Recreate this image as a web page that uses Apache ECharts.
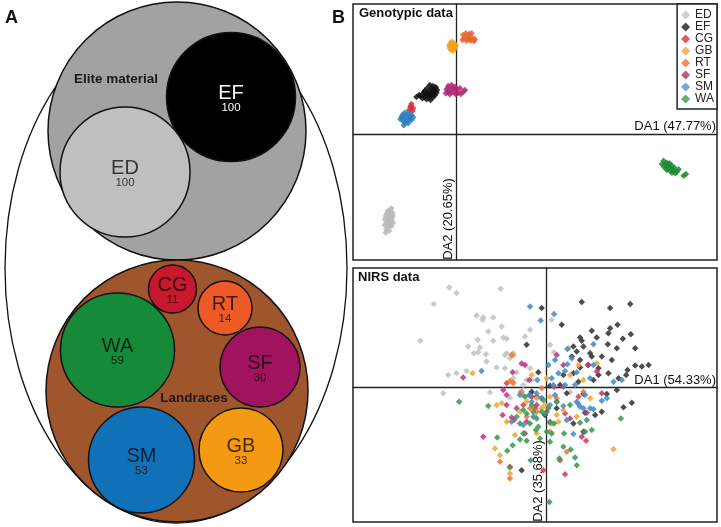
<!DOCTYPE html>
<html>
<head>
<meta charset="utf-8">
<script src="https://cdn.jsdelivr.net/npm/echarts@6/dist/echarts.min.js"></script>
<style>html,body{margin:0;padding:0;background:#fff;}#c{width:721px;height:527px;}</style>
</head>
<body>
<div id="c"></div>
<script>
// ---------------- DATA ----------------
// Panel A: accessions per group
const groupNames  = ['ED','EF','CG','RT','WA','SF','SM','GB'];
const groupCounts = [100, 100, 11, 14, 59, 30, 53, 33];
const poolNames   = ['Elite material', 'Landraces'];
const legendOrder = ['ED','EF','CG','GB','RT','SF','SM','WA'];
const genoTitle = 'Genotypic data';
const nirsTitle = 'NIRS data';
const genoAxisNames = ['DA1 (47.77%)', 'DA2 (20.65%)'];
const nirsAxisNames = ['DA1 (54.33%)', 'DA2 (35.68%)'];

// Panel B (top): DAPC on genotypic data, [DA1, DA2]
const genoED = [[-19.5,-22.2],[-20.0,-22.9],[-19.2,-23.5],[-20.8,-23.7],[-19.8,-24.2],[-21.2,-24.5],[-20.2,-24.9],[-19.2,-24.9],[-21.5,-25.5],[-20.5,-25.7],[-19.5,-25.7],[-21.0,-26.5],[-20.0,-26.7],[-19.0,-26.5],[-21.5,-27.2],[-20.5,-27.7],[-19.5,-27.5],[-21.0,-28.5],[-20.2,-28.9],[-21.2,-29.5],[-19.2,-24.2],[-20.6,-23.0],[-20.0,-26.0]];
const genoEF = [[-8.0,14.8],[-7.0,14.5],[-6.2,14.1],[-8.8,13.8],[-7.5,13.8],[-6.5,13.5],[-5.8,13.3],[-9.5,13.1],[-8.2,12.8],[-7.0,12.7],[-6.0,12.5],[-10.0,12.1],[-8.8,12.0],[-7.5,11.9],[-6.5,11.7],[-10.8,11.5],[-9.5,11.3],[-8.2,11.1],[-7.0,11.1],[-9.0,10.5],[-7.8,10.3],[-10.2,10.8],[-11.2,11.8],[-8.5,12.4],[-7.2,13.2],[-9.2,11.9],[-6.8,12.1],[-8.0,11.6],[-9.8,12.6],[-12.0,11.2]];
const genoCG = [[-13.5,9.1],[-13.8,8.1],[-13.0,7.8],[-14.2,7.3],[-13.2,7.0],[-13.7,8.5]];
const genoGB = [[-1.5,27.8],[-1.0,27.5],[-2.0,27.1],[-1.2,27.0],[-0.5,27.1],[-2.2,26.5],[-1.5,26.3],[-0.8,26.3],[-0.2,26.5],[-2.0,25.8],[-1.2,25.7],[-0.5,25.7],[-1.7,25.3],[-1.0,25.1]];
const genoRT = [[2.0,29.8],[2.8,30.3],[3.8,30.1],[4.5,30.3],[2.3,28.8],[3.2,29.1],[4.0,29.0],[4.8,28.8],[5.5,28.5],[1.8,28.3],[3.0,28.1],[4.2,28.1],[5.2,27.9],[3.5,28.5]];
const genoSF = [[-2.5,14.5],[-1.5,14.8],[-0.5,14.3],[-3.0,13.5],[-2.0,13.7],[-1.0,13.8],[0.0,13.5],[1.0,13.8],[-2.5,12.8],[-1.5,12.7],[-0.5,12.8],[0.5,12.5],[2.0,12.8],[-2.0,12.0],[-0.2,12.0],[1.3,12.1],[-3.2,12.3],[2.5,13.3]];
const genoSM = [[-15.5,6.5],[-14.5,6.3],[-13.5,5.8],[-16.2,5.8],[-15.0,5.5],[-14.0,5.3],[-13.0,5.1],[-16.5,5.1],[-15.5,4.8],[-14.2,4.6],[-16.0,4.1],[-14.8,4.1],[-13.5,4.3],[-15.5,3.5],[-14.5,3.3],[-15.8,2.7],[-16.8,4.5]];
const genoWA = [[62.0,-7.9],[63.0,-8.5],[61.5,-8.9],[62.5,-9.2],[63.5,-9.2],[64.5,-9.4],[62.2,-9.9],[63.2,-10.0],[64.2,-10.2],[65.2,-10.0],[63.0,-10.7],[64.0,-10.9],[65.0,-10.9],[66.0,-11.2],[64.5,-11.5],[65.5,-11.7],[63.8,-8.7],[66.5,-10.5],[68.7,-11.9],[68.0,-12.4]];

// Panel B (bottom): DAPC on NIRS data, [DA1, DA2]
const nirsED = [[-29.0,29.8],[-26.8,28.1],[-13.6,29.4],[-33.6,24.8],[-20.8,21.4],[-18.8,20.8],[-15.8,20.8],[-19.0,20.1],[-13.3,18.1],[-17.3,16.6],[-37.6,13.8],[-20.5,14.1],[-15.8,13.8],[-12.8,14.8],[-11.8,14.4],[-4.8,17.1],[-6.3,15.1],[1.7,20.1],[1.2,12.6],[-23.3,12.1],[-21.6,10.1],[-20.3,10.4],[-18.0,9.8],[-11.8,10.1],[-9.8,10.1],[-10.8,8.6],[-29.3,3.6],[-26.8,4.1],[-23.8,4.8],[-17.8,7.6],[-14.8,5.8],[-8.8,4.4],[-4.8,5.6],[-9.8,2.6],[-6.8,0.6],[-4.3,2.1],[-7.8,-1.6],[-30.8,-1.9],[-16.8,-1.6],[-10.8,-3.2],[7.2,-1.6],[2.4,10.4],[-12.3,9.6],[-19.8,11.8],[-12.3,5.6],[-5.8,2.1]];
const nirsEF = [[-1.3,23.6],[10.7,25.4],[19.2,23.6],[25.2,24.8],[4.7,18.6],[13.7,16.8],[19.2,17.6],[21.4,18.6],[10.2,14.8],[10.7,13.8],[15.2,14.8],[18.7,16.1],[23.0,14.4],[25.4,15.8],[26.7,11.6],[18.5,12.8],[21.2,11.6],[8.2,12.1],[11.2,12.1],[9.2,10.6],[13.2,10.1],[7.7,9.1],[10.2,8.1],[13.7,9.1],[16.7,9.1],[19.7,8.1],[26.7,6.4],[28.7,6.1],[30.7,6.6],[24.4,5.1],[24.0,3.6],[10.2,5.8],[12.7,6.6],[15.7,5.6],[8.2,4.1],[15.7,3.6],[18.7,4.1],[21.7,2.6],[14.2,2.1],[9.7,1.6],[5.2,3.6],[1.2,0.4],[-5.8,12.6],[-2.3,4.4],[-4.3,-1.4],[-7.3,-24.9],[11.2,-2.1],[18.2,-2.1],[21.2,-0.9],[23.2,-6.1],[25.7,-4.7],[14.7,-8.4],[16.7,-7.4],[11.7,-7.7],[8.2,-10.9],[11.2,-13.4],[3.2,-6.4],[-0.3,-8.4],[4.2,0.6],[6.2,-1.9],[-4.8,-2.4],[-2.8,-2.9]];
const nirsCG = [[-0.8,-24.9],[4.2,-21.9],[5.7,-26.1],[-10.8,-23.9],[12.0,-16.1],[5.7,-7.9],[-11.8,1.1],[-3.3,-6.4],[1.2,-10.4],[9.7,-2.9],[-6.8,-5.4]];
const nirsGB = [[-9.8,9.6],[-22.0,4.1],[6.7,11.6],[9.7,6.6],[15.2,7.1],[-10.0,1.6],[-14.8,-5.4],[-5.8,-4.4],[-2.8,-3.4],[-1.3,-6.4],[1.7,-10.9],[3.7,-10.4],[-15.3,-18.4],[-13.8,-20.4],[-10.8,-25.9],[20.2,-18.6],[-4.3,3.6],[-6.8,-2.4],[0.2,2.6],[7.2,3.6],[11.2,2.1],[-7.8,-7.4],[-11.8,-10.4],[-9.3,-14.4],[-3.3,-8.9],[5.2,-6.9],[9.2,-8.9],[-0.3,-5.4],[3.2,-8.4],[-2.8,-13.9],[-13.3,-4.9],[13.2,-3.4],[1.2,-2.9]];
const nirsRT = [[-10.3,9.6],[-10.8,1.8],[-9.8,1.1],[-2.8,-7.4],[-4.8,-6.4],[-13.8,-22.4],[-10.8,-27.4],[3.2,-3.4],[11.2,-1.4],[1.2,-13.4],[-7.3,-1.4],[6.2,-19.4],[-5.8,-8.9],[-1.3,-0.4]];
const nirsSF = [[-24.8,2.8],[-7.3,7.0],[-6.3,6.6],[3.2,9.6],[12.5,6.6],[-10.0,4.4],[-5.0,2.1],[-13.0,-8.4],[-18.8,-14.9],[-10.3,-9.1],[-9.6,-9.9],[-11.8,-2.4],[-12.8,-0.9],[-6.3,-13.9],[12.2,-7.7],[10.7,-14.9],[16.7,-1.9],[2.4,0.1],[5.2,0.1],[-2.8,-5.4],[-5.8,-10.4],[7.2,-9.4],[-8.8,-6.4],[0.2,-7.4],[5.2,6.6],[-1.3,-3.4],[15.2,4.6],[-11.8,-5.4],[-4.3,-2.9],[3.2,-4.4]];
const nirsSM = [[-4.8,24.1],[-1.6,19.9],[2.4,21.8],[-19.3,4.8],[14.2,12.8],[6.4,11.4],[2.7,8.1],[6.4,6.8],[5.7,4.8],[9.2,4.4],[13.2,2.6],[20.2,1.6],[22.7,2.1],[1.7,2.6],[3.7,4.1],[5.7,0.6],[8.7,0.6],[2.2,0.6],[5.2,-5.7],[9.2,-4.4],[9.7,-5.1],[10.2,-5.9],[13.2,-6.4],[14.2,-6.7],[16.7,-4.1],[18.2,-3.4],[6.2,-9.9],[8.2,-14.1],[11.2,-6.4],[2.7,-2.4],[-5.0,-2.4],[-2.8,-1.9],[-4.3,-4.4],[-3.8,-8.9],[-7.8,-2.4],[-1.3,-3.4],[-2.6,2.1],[0.7,6.6],[11.7,-2.4],[7.7,8.6],[14.2,6.6],[1.2,-5.4],[-10.3,-10.4],[-6.8,-11.4]];
const nirsWA = [[-26.0,-4.4],[-17.3,-5.7],[-14.6,-15.1],[-11.6,-19.1],[-10.0,-17.4],[-7.8,-15.7],[-5.8,-16.1],[-4.8,-10.9],[-3.8,-7.4],[-3.0,-12.9],[-2.3,-11.9],[-1.8,-15.4],[-4.6,-21.9],[-5.8,-7.9],[-6.8,-6.9],[-8.8,-8.9],[-7.8,-10.9],[-1.3,-7.4],[-10.8,-24.1],[-0.8,-3.9],[-0.3,-7.9],[0.2,-13.4],[1.7,-13.9],[3.2,-4.4],[5.4,-13.9],[7.4,-18.7],[8.7,-21.1],[9.2,-23.4],[10.2,-10.7],[13.7,-12.9],[12.2,-9.9],[22.4,-9.4],[1.2,-10.7],[2.4,-10.9],[1.2,-16.4],[1.0,-34.4],[4.0,-21.4],[5.2,-17.9],[-4.3,-5.4],[-2.8,-9.4],[0.7,-6.4],[-6.3,-2.9],[7.2,-5.4],[11.7,-13.4],[-6.8,-13.9]];

// ---------------- STYLE / LAYOUT ----------------
const FONT = '"Liberation Sans", Arial, sans-serif';
const circleFill = {ED:'#bfbfbe', EF:'#000000', CG:'#c8182e', RT:'#ee5a26', WA:'#168a38', SF:'#a1135e', SM:'#1070b8', GB:'#f39a12'};
const poolFill = {'Elite material':'#a2a2a2', 'Landraces':'#a0562c'};
// panel-A diagram layout (diagram units = px of the panel)
const circleLayout = {ED:[125,172,65], EF:[231,97,64.5], CG:[172.5,289,24], RT:[225,308,27], WA:[117.5,350,57], SF:[260,367,40], SM:[141.5,460,53], GB:[241,450,42]};
const poolLayout = {'Elite material':[177,131,129,116,79], 'Landraces':[177,391,131,194,398]};
const ellipseLayout = [176,268,171,255];

const genoColor = {ED:'#b9b9b9', EF:'#111111', CG:'#d62f3c', GB:'#f5a21c', RT:'#ec6328', SF:'#b0256e', SM:'#2a7cc2', WA:'#1a8a32'};
const nirsColor = {ED:'#c4c4c4', EF:'#3a3a3a', CG:'#d9474f', GB:'#f2aa3e', RT:'#ee7d43', SF:'#c13d80', SM:'#4690cc', WA:'#3c9f55'};
const legendColor = {ED:'#cfcfcf', EF:'#4a4a4a', CG:'#d9605e', GB:'#f6b66a', RT:'#ee8e5e', SF:'#b85d88', SM:'#79a6da', WA:'#68ad6b'};

const geno = {ED:genoED, EF:genoEF, CG:genoCG, GB:genoGB, RT:genoRT, SF:genoSF, SM:genoSM, WA:genoWA};
const nirs = {ED:nirsED, EF:nirsEF, CG:nirsCG, GB:nirsGB, RT:nirsRT, SF:nirsSF, SM:nirsSM, WA:nirsWA};

// ---------------- CHART ----------------
const chart = echarts.init(document.getElementById('c'), null, {renderer:'canvas'});

function hiddenAxis(idx, min, max, inverse){
  return {type:'value', gridIndex:idx, min:min, max:max, inverse:!!inverse, show:false};
}
function crossAxis(idx, min, max){
  return {type:'value', gridIndex:idx, min:min, max:max,
    axisLine:{show:true, onZero:true, lineStyle:{color:'#222', width:1.3}},
    axisTick:{show:false}, axisLabel:{show:false}, splitLine:{show:false}};
}

const series = [];
// ellipse around both pools
series.push({type:'custom', xAxisIndex:0, yAxisIndex:0, silent:true, z:1,
  data:[ellipseLayout],
  renderItem:function(p, api){
    const c = api.coord([api.value(0), api.value(1)]);
    const s = api.size([api.value(2), api.value(3)]);
    return {type:'ellipse', shape:{cx:c[0], cy:c[1], rx:s[0], ry:s[1]},
      style:{fill:'#ffffff', stroke:'#111', lineWidth:1.3}};
  }});
// pools
series.push({type:'custom', xAxisIndex:0, yAxisIndex:0, silent:true, z:2,
  data: poolNames.map((n,i)=>poolLayout[n].concat([i])),
  renderItem:function(p, api){
    const name = poolNames[api.value(5)];
    const c = api.coord([api.value(0), api.value(1)]);
    const r = api.size([api.value(2), 0])[0];
    const t = api.coord([api.value(3), api.value(4)]);
    return {type:'group', children:[
      {type:'circle', shape:{cx:c[0], cy:c[1], r:r}, style:{fill:poolFill[name], stroke:'#111', lineWidth:1.5}},
      {type:'text', z2:50, x:t[0], y:t[1], style:{text:name, fill:'#1a1a1a', font:'bold 13.5px '+FONT, align:'center', verticalAlign:'middle'}}
    ]};
  }});
// groups
series.push({type:'custom', xAxisIndex:0, yAxisIndex:0, silent:true, z:3,
  data: groupNames.map((n,i)=>circleLayout[n].concat([i])),
  renderItem:function(p, api){
    const i = api.value(3);
    const name = groupNames[i];
    const c = api.coord([api.value(0), api.value(1)]);
    const r = api.size([api.value(2), 0])[0];
    const tc = name === 'EF' ? '#ffffff' : 'rgba(0,0,0,0.72)';
    return {type:'group', children:[
      {type:'circle', shape:{cx:c[0], cy:c[1], r:r}, style:{fill:circleFill[name], stroke:'#111', lineWidth:1.5}},
      {type:'text', x:c[0], y:c[1]-4, style:{text:name, fill:tc, font:'20px '+FONT, align:'center', verticalAlign:'middle'}},
      {type:'text', x:c[0], y:c[1]+11, style:{text:String(groupCounts[i]), fill:tc, font:'11.5px '+FONT, align:'center', verticalAlign:'middle'}}
    ]};
  }});

legendOrder.forEach(function(n){
  series.push({type:'scatter', name:n, xAxisIndex:1, yAxisIndex:1, data:geno[n],
    symbol:'diamond', symbolSize:6.5, silent:true, z:4,
    itemStyle:{color:genoColor[n], opacity:0.85}});
});
legendOrder.forEach(function(n){
  series.push({type:'scatter', name:n, xAxisIndex:2, yAxisIndex:2, data:nirs[n],
    symbol:'diamond', symbolSize:6.5, silent:true, z:4,
    itemStyle:{color:nirsColor[n], opacity:0.9}});
});

const option = {
  animation:false,
  backgroundColor:'#ffffff',
  textStyle:{fontFamily:FONT},
  grid:[
    {left:0, top:0, width:350, height:527, show:false},
    {left:353, top:4, width:364, height:256, show:true, borderColor:'#222', borderWidth:1.5, backgroundColor:'#fff'},
    {left:353, top:268, width:364, height:254, show:true, borderColor:'#222', borderWidth:1.5, backgroundColor:'#fff'}
  ],
  xAxis:[hiddenAxis(0,0,350,false), crossAxis(1,-31.0,78.0), crossAxis(2,-57.8,51.2)],
  yAxis:[hiddenAxis(0,0,527,true), crossAxis(1,-37.7,39.1), crossAxis(2,-40.4,35.6)],
  legend:{
    orient:'vertical', right:4, top:4, selectedMode:false,
    backgroundColor:'#fff', borderColor:'#222', borderWidth:1.5,
    padding:[5,3,4,4], itemGap:0, itemWidth:9, itemHeight:9,
    textStyle:{fontSize:12, color:'#222', lineHeight:12, fontFamily:FONT},
    data: legendOrder.map(n=>({name:n, icon:'diamond', itemStyle:{color:legendColor[n], opacity:1}}))
  },
  graphic:[
    {type:'text', x:5, y:9, style:{text:'A', font:'bold 18px '+FONT, fill:'#111'}},
    {type:'text', x:332, y:9, style:{text:'B', font:'bold 18px '+FONT, fill:'#111'}},
    {type:'text', x:359, y:7, z:100, style:{text:genoTitle, font:'bold 13px '+FONT, fill:'#111'}},
    {type:'text', x:358, y:271, z:100, style:{text:nirsTitle, font:'bold 13px '+FONT, fill:'#111'}},
    {type:'text', x:716, y:133, z:100, style:{text:genoAxisNames[0], font:'13px '+FONT, fill:'#111', align:'right', verticalAlign:'bottom'}},
    {type:'text', x:716, y:387, z:100, style:{text:nirsAxisNames[0], font:'13px '+FONT, fill:'#111', align:'right', verticalAlign:'bottom'}},
    {type:'text', x:448, y:219, rotation:Math.PI/2, z:100, style:{text:genoAxisNames[1], font:'13px '+FONT, fill:'#111', align:'center', verticalAlign:'middle'}},
    {type:'text', x:538, y:481, rotation:Math.PI/2, z:100, style:{text:nirsAxisNames[1], font:'13px '+FONT, fill:'#111', align:'center', verticalAlign:'middle'}}
  ],
  series: series
};
chart.setOption(option);
</script>
</body>
</html>
